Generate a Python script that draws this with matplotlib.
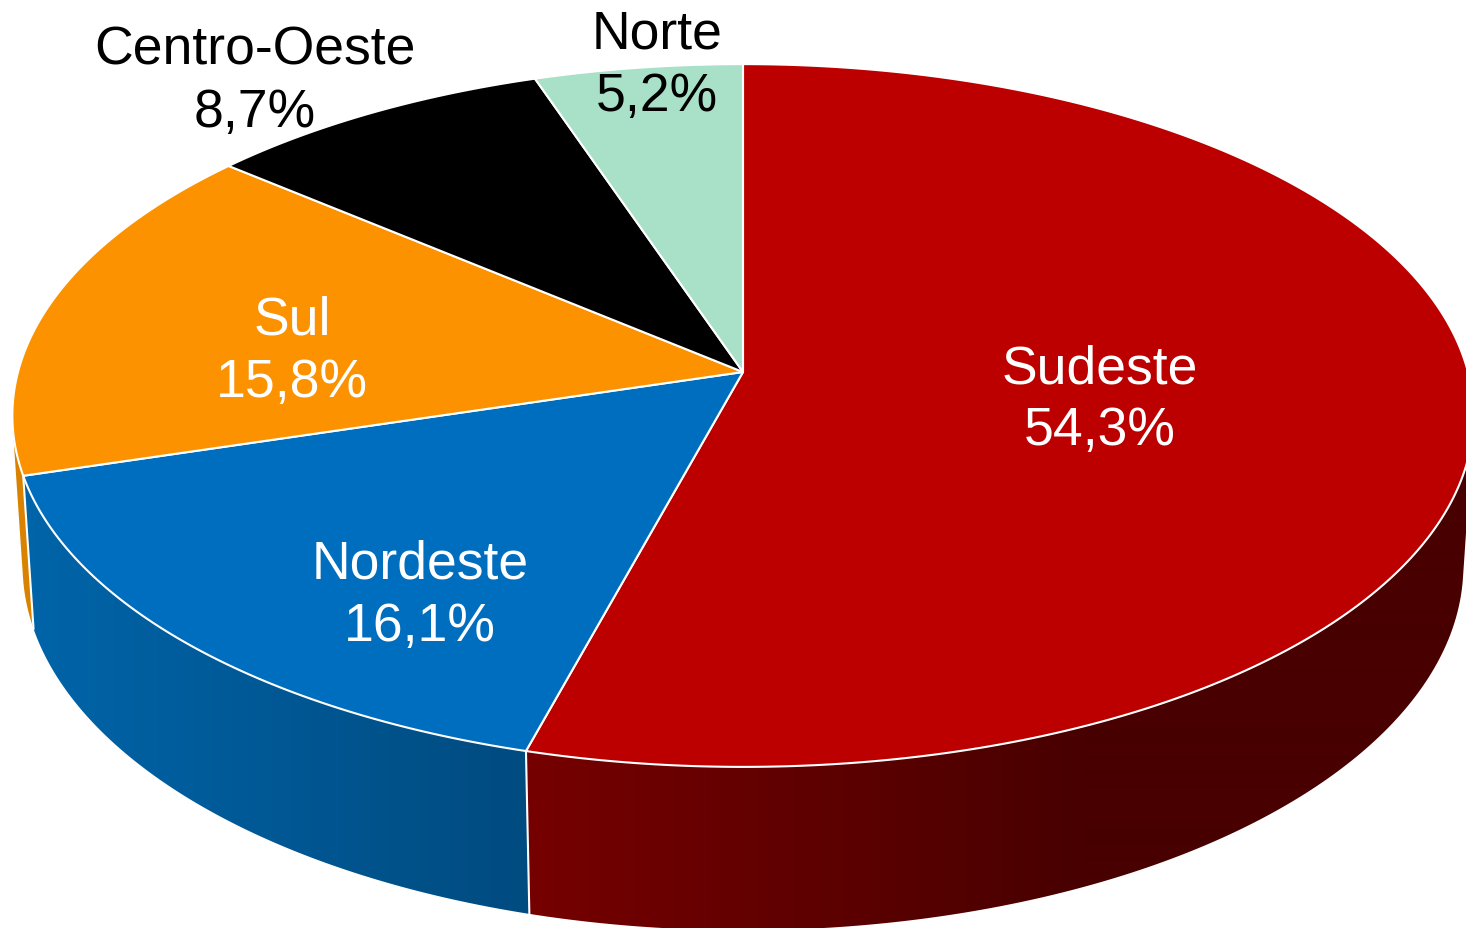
import numpy as np
import matplotlib.pyplot as plt
from matplotlib.colors import LinearSegmentedColormap
from matplotlib.patches import Polygon

plt.rcParams['font.family'] = ['Liberation Sans', 'DejaVu Sans']

regions = ['Sudeste', 'Nordeste', 'Sul', 'Centro-Oeste', 'Norte']
shares = [54.3, 16.1, 15.8, 8.7, 5.2]
top_colors = ['#bc0000', '#006ebf', '#fd9200', '#000000', '#a9e1c8']
wall_colors = [('#760000', '#480000'), ('#0064a8', '#004b80'), ('#d98200', '#d98200'),
               ('#000000', '#000000'), ('#a9e1c8', '#a9e1c8')]
text_colors = ['white', 'white', 'white', 'black', 'black']

# label centres in pixels (name line), second line is one line_gap lower
label_x = [1100, 420, 292, 255, 657]
label_y = [364, 559, 315, 45, 29]
line_gap = 62

W, H = 1466, 929
cx, cy = 743, 373
Rx, Ry, k = 725, 346, 0.1238    # perspective of the top face
depth, wall_m = 151, 0.014      # extrusion of the side wall


def project(theta, lower=False):
    # theta clockwise from the top of the pie
    x = np.sin(theta)
    y = np.cos(theta)
    if lower:
        w = 1 + k * y + wall_m
        return cx + Rx * x / w, cy - (Ry * y - depth) / w
    w = 1 + k * y
    return cx + Rx * x / w, cy - Ry * y / w


def hull(points):
    # monotone chain, the wall outline has to include the tangent between top and bottom rim
    points = sorted(set(map(tuple, points)))
    def half(pts):
        out = []
        for p in pts:
            while len(out) > 1:
                a, b = out[-2], out[-1]
                if (b[0] - a[0]) * (p[1] - a[1]) - (b[1] - a[1]) * (p[0] - a[0]) > 0:
                    break
                out.pop()
            out.append(p)
        return out[:-1]
    return half(points) + half(points[::-1])


fig = plt.figure(figsize=(W / 100, H / 100), dpi=100)
ax = fig.add_axes([0, 0, 1, 1])
ax.axis('off')

edges = np.cumsum([0] + shares) / sum(shares) * 2 * np.pi

# side walls, back to front, so Sudeste and Nordeste end up over Sul
for i in [4, 3, 2, 1, 0]:
    t = np.linspace(edges[i], edges[i + 1], 300)
    ux, uy = project(t)
    lx, ly = project(t, lower=True)
    pts = hull(np.column_stack([np.r_[ux, lx], np.r_[uy, ly]]))
    wall = Polygon(pts, closed=True, facecolor='none', edgecolor='none')
    ax.add_patch(wall)
    cmap = LinearSegmentedColormap.from_list('w', wall_colors[i])
    if i == 0:
        grad = np.clip((np.arange(W) - 527) / 560, 0, 1)
    else:
        grad = np.clip((np.arange(W) - 35) / 492, 0, 1)
    im = ax.imshow(grad[None, :], cmap=cmap, vmin=0, vmax=1, aspect='auto',
                   extent=[0, W, H, 0], interpolation='bilinear')
    im.set_clip_path(wall)

# white seams on the walls
for e in edges[1:3]:
    ux, uy = project(e)
    lx, ly = project(e, lower=True)
    ax.plot([ux, lx], [uy, ly], color='white', lw=1.5)

# top face
for i in range(len(shares)):
    t = np.linspace(edges[i], edges[i + 1], 300)
    ux, uy = project(t)
    pts = np.column_stack([np.r_[cx, ux], np.r_[cy, uy]])
    ax.add_patch(Polygon(pts, closed=True, facecolor=top_colors[i], edgecolor='white',
                         lw=1.5, joinstyle='round'))

for i in range(len(regions)):
    pct = f'{shares[i]:.1f}%'.replace('.', ',')
    ax.text(label_x[i], label_y[i], regions[i], color=text_colors[i], fontsize=38.5,
            ha='center', va='center_baseline')
    ax.text(label_x[i], label_y[i] + line_gap, pct, color=text_colors[i], fontsize=38.5,
            ha='center', va='center_baseline')

ax.set_xlim(0, W)
ax.set_ylim(H, 0)
fig.savefig('out.png', dpi=100, facecolor='white')
